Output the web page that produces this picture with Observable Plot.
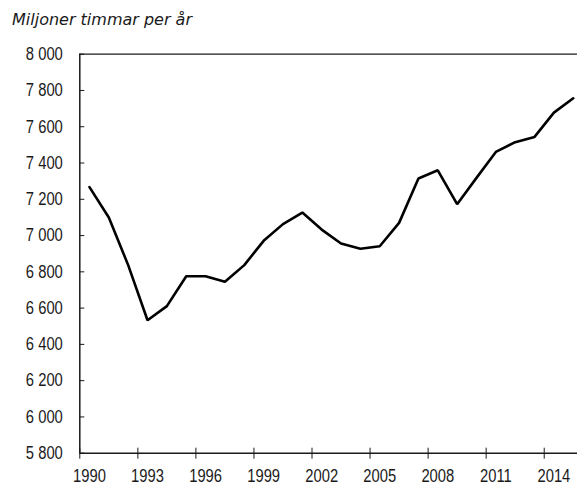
<!DOCTYPE html>
<html>
<head>
<meta charset="utf-8">
<script src="https://cdn.jsdelivr.net/npm/d3@7"></script>
<script src="https://cdn.jsdelivr.net/npm/@observablehq/plot@0.6"></script>
<style>
  html, body { margin: 0; padding: 0; background: #fff; }
  #title {
    box-sizing: border-box;
    height: 30px;
    padding: 9.5px 0 0 12px;
    line-height: 20px;
    font-family: "DejaVu Sans", sans-serif;
    font-style: italic;
    font-size: 16px;
    color: #1a1a1a;
    white-space: nowrap;
  }
  svg { display: block; }
</style>
</head>
<body>
<div id="title">Miljoner timmar per år</div>
<div id="chart"></div>
<script>
const years = [1990, 1991, 1992, 1993, 1994, 1995, 1996, 1997, 1998, 1999, 2000, 2001, 2002,
               2003, 2004, 2005, 2006, 2007, 2008, 2009, 2010, 2011, 2012, 2013, 2014, 2015];
const hours = [7267, 7100, 6837, 6533, 6611, 6776, 6776, 6745, 6837, 6971, 7063, 7127, 7033,
               6956, 6927, 6941, 7070, 7315, 7360, 7173, 7318, 7461, 7515, 7544, 7678, 7757];
const xTickYears = [1990, 1993, 1996, 1999, 2002, 2005, 2008, 2011, 2014];
const yTicks = [5800, 6000, 6200, 6400, 6600, 6800, 7000, 7200, 7400, 7600, 7800, 8000];

const data = years.map((y, i) => ({year: y, value: hours[i]}));
const fmtY = d => d3.format(",")(d).replace(/,/g, " ");
const ink = "#1a1a1a";
const yMin = d3.min(yTicks), yMax = d3.max(yTicks);

const chart = Plot.plot({
  width: 577,
  height: 455,
  marginLeft: 79.3,
  marginRight: 0,
  marginTop: 23.7,
  marginBottom: 32.3,
  style: {fontFamily: "'Liberation Sans', Arial, sans-serif", fontSize: "18px", color: ink, background: "#fff"},
  x: {domain: [1990, 2015.72], label: null},
  y: {domain: [yMin, yMax], label: null},
  marks: [
    // frame lines
    Plot.ruleY([yMax], {stroke: ink, strokeWidth: 1.2}),
    Plot.ruleY([yMin], {stroke: ink, strokeWidth: 1.5}),
    Plot.ruleX([years[0]], {stroke: ink, strokeWidth: 1.5}),
    // y axis: inward ticks + labels
    Plot.axisY(yTicks, {tickSize: 5, dx: 5, fill: "none", stroke: ink, label: null}),
    Plot.axisY(yTicks, {tickSize: 0, tickPadding: 17, tickFormat: fmtY, fill: ink, label: null}),
    // x axis: crossing ticks at year boundaries, labels centred on mid-year
    Plot.axisX(xTickYears, {tickSize: 11, dy: -5, fill: "none", stroke: ink, label: null}),
    Plot.axisX(xTickYears.map(y => y + 0.5), {tickSize: 0, tickPadding: 16, tickFormat: d => String(Math.floor(d)), fill: ink, label: null}),
    // data line (annual values plotted at mid-year)
    Plot.line(data, {x: d => d.year + 0.5, y: "value", stroke: "#000", strokeWidth: 2.6, strokeLinejoin: "miter"})
  ]
});
document.getElementById("chart").appendChild(chart);

// Emulate a narrow (condensed) face: compress tick labels horizontally to ~82%.
chart.querySelectorAll('g[aria-label$="tick label"] text').forEach(t => {
  const len = t.getComputedTextLength();
  if (len > 0) {
    t.setAttribute("lengthAdjust", "spacingAndGlyphs");
    t.setAttribute("textLength", (len * 0.82).toFixed(2));
  }
});
</script>
</body>
</html>
